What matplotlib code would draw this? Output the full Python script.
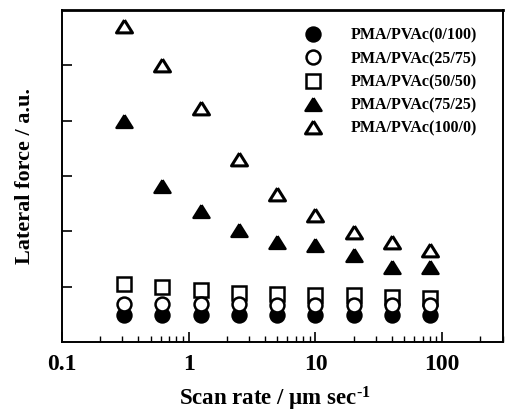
import matplotlib
matplotlib.use("Agg")
import matplotlib.pyplot as plt
from matplotlib.ticker import LogLocator, NullFormatter, FixedLocator, NullLocator

plt.rcParams['font.family'] = ['Liberation Serif', 'DejaVu Serif']
plt.rcParams['font.weight'] = 'bold'
plt.rcParams['mathtext.fontset'] = 'custom'
plt.rcParams['mathtext.rm'] = 'Liberation Serif:bold'
plt.rcParams['mathtext.bf'] = 'Liberation Serif:bold'
plt.rcParams['mathtext.default'] = 'bf'

scan_rate = [0.31, 0.62, 1.25, 2.5, 5, 10, 20, 40, 80]
pva_0_100 = [0.49, 0.49, 0.49, 0.49, 0.49, 0.49, 0.49, 0.49, 0.49]
pva_25_75 = [0.68, 0.68, 0.69, 0.68, 0.67, 0.67, 0.66, 0.66, 0.66]
pva_50_50 = [1.04, 1.00, 0.93, 0.89, 0.87, 0.85, 0.84, 0.82, 0.80]
pva_75_25 = [4.00, 2.82, 2.36, 2.02, 1.80, 1.75, 1.58, 1.36, 1.35]
pva_100_0 = [5.71, 5.00, 4.22, 3.31, 2.67, 2.29, 1.98, 1.80, 1.67]
labels = ['PMA/PVAc(0/100)', 'PMA/PVAc(25/75)', 'PMA/PVAc(50/50)',
          'PMA/PVAc(75/25)', 'PMA/PVAc(100/0)']
xticks = [0.1, 1, 10, 100]
xticklabels = ['0.1', '1', '10', '100']

fig = plt.figure(figsize=(5.06, 4.17), dpi=100)
ax = fig.add_axes([0.1225, 0.18, 0.871, 0.796])

tri = [(0, 0.8), (-1, -0.8), (1, -0.8), (0, 0.8)]
ms = 10
mew = 1.8
h1, = ax.plot(scan_rate, pva_0_100, 'o', ms=ms, mfc='black', mec='black', mew=mew, zorder=2, label=labels[0])
h3, = ax.plot(scan_rate, pva_50_50, 's', ms=ms - 0.5, mfc='white', mec='black', mew=mew, zorder=3, label=labels[2])
h2, = ax.plot(scan_rate, pva_25_75, 'o', ms=ms, mfc='white', mec='black', mew=mew, zorder=4, label=labels[1])
h4, = ax.plot(scan_rate, pva_75_25, marker=tri, ls='none', ms=ms + 1.5, mfc='black', mec='black', mew=mew, zorder=2, label=labels[3])
h5, = ax.plot(scan_rate, pva_100_0, marker=tri, ls='none', ms=ms + 1.5, mfc='white', mec='black', mew=2.2, zorder=2, label=labels[4])

ax.set_xscale('log')
ax.set_xlim(0.1, 300)
ax.set_ylim(0, 6)

ax.xaxis.set_major_locator(FixedLocator(xticks))
ax.set_xticklabels(xticklabels, fontsize=17, fontweight='bold')
ax.xaxis.set_minor_locator(LogLocator(base=10, subs=range(2, 10)))
ax.xaxis.set_minor_formatter(NullFormatter())
ax.yaxis.set_major_locator(FixedLocator([1, 2, 3, 4, 5]))
ax.set_yticklabels([])
ax.yaxis.set_minor_locator(NullLocator())

ax.tick_params(axis='x', which='major', direction='in', length=7, width=1.2, pad=9)
ax.tick_params(axis='x', which='minor', direction='in', length=4, width=1.0)
ax.tick_params(axis='y', which='major', direction='in', length=7, width=1.2)

for sp in ax.spines.values():
    sp.set_linewidth(1.4)
ax.spines['top'].set_linewidth(2.0)

ax.set_xlabel('Scan rate / \u03bcm sec$^{\\text{-1}}$', fontsize=16.5, fontweight='bold')
ax.xaxis.set_label_coords(0.483, -0.13)
ax.set_ylabel('Lateral force / a.u.', fontsize=16, fontweight='bold', labelpad=16)

leg = ax.legend(handles=[h1, h2, h3, h4, h5], labels=labels, loc='upper left',
                bbox_to_anchor=(0.517, 0.98), frameon=False,
                prop={'weight': 'bold', 'size': 11.5}, handletextpad=1.6,
                labelspacing=0.45, borderaxespad=0.3, handlelength=1.5)

fig.savefig('out.png', dpi=100)
